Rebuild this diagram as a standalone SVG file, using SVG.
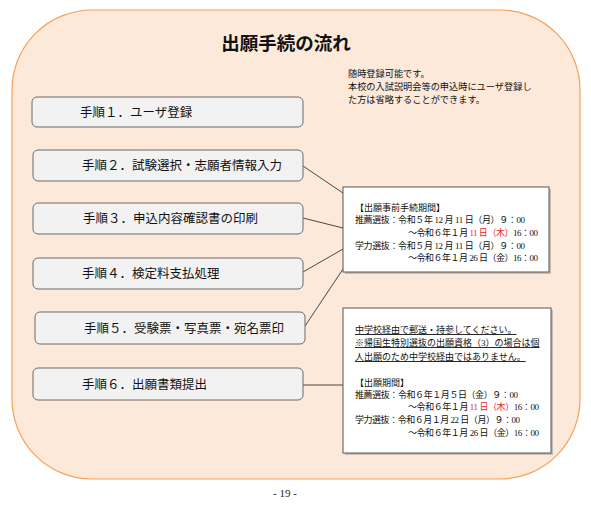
<svg xmlns="http://www.w3.org/2000/svg" width="591" height="515" viewBox="0 0 591 515">
<defs>
<style>
.step rect{fill:#F2F2F2;stroke:#6B6B6B;stroke-width:1}
.step text{font-family:"Noto Sans CJK JP","Noto Sans",sans-serif;font-size:12.5px;fill:#111}
.info{font-family:"Liberation Serif","Noto Sans CJK JP",serif;font-size:9px;fill:#111}
.red{fill:#E8251F}
.conn line{stroke:#333;stroke-width:0.9}
.ibox{fill:#FFFFFF;stroke:#555;stroke-width:1}
</style>
</defs>
<rect x="0" y="0" width="591" height="515" fill="#FFFFFF"/>
<g id="frame">
<rect x="12" y="10" width="568" height="469" rx="80" ry="80" fill="#FDE9D9" stroke="#F5A05A" stroke-width="1.2"/>
</g>
<g id="title">
<text x="286" y="50" text-anchor="middle" font-family="'Noto Sans CJK JP',sans-serif" font-size="18.5" font-weight="bold" fill="#111">出願手続の流れ</text>
</g>
<g id="note">
<text x="348" y="77" class="info" style="font-size:9.2px">随時登録可能です。</text>
<text x="348" y="90" class="info" style="font-size:9.2px">本校の入試説明会等の申込時にユーザ登録し</text>
<text x="348" y="103" class="info" style="font-size:9.2px">た方は省略することができます。</text>
</g>
<g id="connectors" class="conn">
<line x1="303" y1="166" x2="343" y2="193"/>
<line x1="303" y1="218" x2="343" y2="228"/>
<line x1="303" y1="272" x2="343" y2="249"/>
<line x1="305" y1="326" x2="343" y2="269"/>
<line x1="303" y1="385" x2="343" y2="385"/>
</g>
<g id="step1" class="step"><rect x="32" y="97" width="271" height="30" rx="5"/><text x="80" y="117">手順１．ユーザ登録</text></g>
<g id="step2" class="step"><rect x="33" y="150" width="270" height="31" rx="5"/><text x="82" y="170">手順２．試験選択・志願者情報入力</text></g>
<g id="step3" class="step"><rect x="33" y="203" width="270" height="31" rx="5"/><text x="83" y="223">手順３．申込内容確認書の印刷</text></g>
<g id="step4" class="step"><rect x="33" y="258" width="270" height="31" rx="5"/><text x="82" y="278">手順４．検定料支払処理</text></g>
<g id="step5" class="step"><rect x="35" y="312" width="270" height="32" rx="5"/><text x="84" y="333">手順５．受験票・写真票・宛名票印</text></g>
<g id="step6" class="step"><rect x="33" y="368" width="270" height="32" rx="5"/><text x="82" y="389">手順６．出願書類提出</text></g>
<g id="boxA">
<rect x="345" y="189" width="206" height="85" fill="#9A8F88" opacity="0.5"/>
<rect x="343" y="187" width="206" height="85" class="ibox"/>
<text class="info" x="355" y="211">【出願事前手続期間】</text>
<text class="info" x="355" y="223" xml:space="preserve" textLength="170" lengthAdjust="spacing">推薦選抜：令和５年 12 月 11 日（月）９：00</text>
<text class="info" x="408" y="236" xml:space="preserve" textLength="130" lengthAdjust="spacing">～令和６年１月 <tspan class="red">11 日（木）</tspan>16：00</text>
<text class="info" x="355" y="249" xml:space="preserve" textLength="170" lengthAdjust="spacing">学力選抜：令和５月 12 月 11 日（月）９：00</text>
<text class="info" x="408" y="261" xml:space="preserve" textLength="130" lengthAdjust="spacing">～令和６年１月 26 日（金）16：00</text>
</g>
<g id="boxB">
<rect x="345" y="310" width="208" height="145" fill="#9A8F88" opacity="0.5"/>
<rect x="343" y="308" width="208" height="145" class="ibox"/>
<text class="info" x="355" y="333" text-decoration="underline">中学校経由で郵送・持参してください。</text>
<text class="info" x="355" y="346" text-decoration="underline">※帰国生特別選抜の出願資格（3）の場合は個</text>
<text class="info" x="355" y="360" text-decoration="underline">人出願のため中学校経由ではありません。</text>
<text class="info" x="355" y="386">【出願期間】</text>
<text class="info" x="355" y="398" xml:space="preserve" textLength="163" lengthAdjust="spacing">推薦選抜：令和６年１月５日（金）９：00</text>
<text class="info" x="408" y="410" xml:space="preserve" textLength="131" lengthAdjust="spacing">～令和６年１月 <tspan class="red">11 日（木）</tspan>16：00</text>
<text class="info" x="355" y="423" xml:space="preserve" textLength="165" lengthAdjust="spacing">学力選抜：令和６月１月 22 日（月）９：00</text>
<text class="info" x="408" y="436" xml:space="preserve" textLength="131" lengthAdjust="spacing">～令和６年１月 26 日（金）16：00</text>
</g>
<g id="page">
<text x="285" y="497" text-anchor="middle" font-family="'Liberation Serif',serif" font-size="11" fill="#222">- 19 -</text>
</g>
</svg>
